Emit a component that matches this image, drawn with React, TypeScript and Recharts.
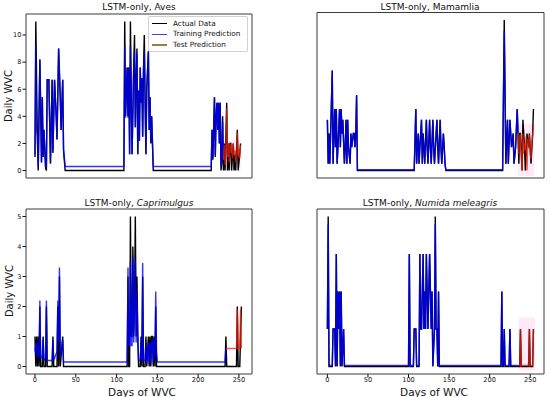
import React from 'react';
import { LineChart, Line, XAxis, YAxis, ReferenceArea } from 'recharts';

type Pt = [number, number];

// ---------- Aves ----------
const avesActual: Pt[] = [
  [0, 1], [1, 11], [3, 2.3], [4, 0], [6, 8.2], [8, 0.6], [9, 5.4], [10, 1], [11, 3], [13, 0.2], [14, 0], [15, 6.7], [17, 6.7], [19, 0.5], [21, 6.7], [22, 1.3], [24, 6.7], [26, 4], [27, 2.3], [29, 9], [31, 5.4], [32, 3], [34, 6.7], [35, 1.5], [37, 0], [109, 0],
  [110, 11], [111, 4], [113, 7.6], [114, 4], [115, 7.6], [116, 1.2], [117, 11], [118, 5.4], [119, 1.2], [121, 7.6], [122, 10], [123, 3.2], [124, 6.5], [125, 9], [126, 1.2], [127, 5.9], [128, 2.2], [129, 7.6], [130, 5], [131, 6.8], [132, 2.5], [133, 7.4], [134, 10], [135, 5.1], [136, 1.2], [137, 6], [139, 8.8], [140, 3], [141, 5.4], [142, 2], [143, 4], [145, 0], [216, 0],
  [217, 3], [218, 0.8], [220, 5.4], [221, 1], [222, 4], [223, 5], [224, 3], [225, 5], [226, 2], [227, 5], [228, 0], [229, 0.6], [230, 4], [231, 0], [232, 2], [233, 0], [235, 5], [236, 0], [237, 2], [238, 0], [239, 2], [240, 2], [241, 0], [243, 2], [244, 0], [245, 1.2], [246, 0], [248, 3], [249, 0], [250, 0.6], [252, 2],
];
const avesTrain: Pt[] = [
  [0, 1.2], [1, 9.2], [2, 3], [3, 2.5], [4, 0.3], [6, 8.2], [8, 0.6], [9, 5.4], [10, 1], [11, 3], [13, 0.3], [14, 0.3], [15, 6.7], [17, 6.7], [19, 0.6], [21, 6.7], [22, 1.4], [24, 6.7], [26, 4], [27, 2.3], [29, 9], [31, 5.4], [32, 3], [34, 6.7], [35, 1.6], [37, 0.3], [109, 0.3],
  [110, 9.2], [111, 3.9], [113, 7.6], [114, 3.9], [115, 7.6], [116, 1.2], [117, 9.2], [118, 5.4], [119, 1.2], [121, 7.6], [122, 8.8], [123, 3.2], [124, 6.5], [125, 8.6], [126, 1.2], [127, 5.9], [128, 2.2], [129, 7.6], [130, 5], [131, 6.8], [132, 2.5], [133, 7.4], [134, 8.8], [135, 5.1], [136, 1.2], [137, 6], [139, 8.8], [140, 3], [141, 5.4], [142, 2.2], [143, 4], [145, 0.3], [216, 0.3],
  [217, 3], [218, 0.9], [220, 5.4], [221, 1.1], [222, 4], [223, 5], [224, 3], [225, 5], [226, 2], [227, 5], [228, 0.3], [229, 0.7], [230, 3.6], [231, 0.8],
];
const avesTest: Pt[] = [
  [231, 0.8], [232, 1.9], [233, 0.4], [234, 1.4], [235, 4.6], [236, 1], [237, 2], [238, 0.6], [239, 2], [240, 1.3], [241, 1.9], [242, 0.9], [243, 2], [244, 1.1], [245, 1.5], [246, 0.6], [247, 1.2], [248, 2.8], [249, 1.1], [250, 1.6], [251, 0.9], [252, 1.9],
];
const avesBand: number[] = [231, 252, 0, 2.2];

// ---------- Mamamlia ----------
const mamActual: Pt[] = [
  [0, 3.7], [1, 0.5], [2, 2.7], [3, 0.5], [4, 2.7], [6, 7.3], [7, 0.5], [8, 2.7], [9, 4.5], [10, 1.7], [11, 4.5], [12, 0.5], [13, 1.7], [15, 4.5], [16, 1.7], [17, 4.5], [18, 2.7], [19, 3.7], [21, 0.5], [22, 1.7], [23, 3.7], [24, 0.5], [25, 3.7], [26, 1.7], [28, 0.5], [29, 2.7], [30, 1.7], [32, 2.7], [33, 2.7], [34, 1.7], [35, 2.7], [36, 5.5], [37, 0], [107, 0],
  [109, 4.5], [110, 0.5], [111, 1.7], [112, 2.7], [113, 0.5], [114, 1.7], [116, 3.7], [117, 0.5], [118, 2.7], [119, 1.7], [120, 0.5], [122, 3.7], [123, 1.7], [124, 0.5], [126, 3.7], [127, 1.7], [128, 0.5], [130, 3.7], [131, 1.7], [132, 0.5], [135, 3.7], [136, 1.7], [137, 0.5], [139, 3.7], [140, 1.7], [141, 0.5], [143, 2.7], [144, 1.7], [145, 0.5], [146, 0], [216, 0],
  [218, 11], [220, 0.5], [222, 3.7], [223, 0.5], [225, 3.7], [227, 1.7], [229, 2.7], [230, 0.5], [232, 1.7], [234, 4.5], [236, 0.5], [237, 2.7], [238, 2.7], [240, 0], [241, 3.7], [243, 1.7], [244, 0], [246, 2.7], [248, 1.7], [249, 2.7], [251, 0.5], [253, 2.7], [254, 4.5],
];
const mamTrain: Pt[] = [
  [0, 3.7], [1, 0.5], [2, 2.7], [3, 0.5], [4, 2.7], [6, 7.3], [7, 0.5], [8, 2.7], [9, 4.5], [10, 1.7], [11, 4.5], [12, 0.5], [13, 1.7], [15, 4.5], [16, 1.7], [17, 4.5], [18, 2.7], [19, 3.7], [21, 0.5], [22, 1.7], [23, 3.7], [24, 0.5], [25, 3.7], [26, 1.7], [28, 0.5], [29, 2.7], [30, 1.7], [32, 2.7], [33, 2.7], [34, 1.7], [35, 2.7], [36, 5.5], [37, 0.05], [107, 0.05],
  [109, 4.5], [110, 0.5], [111, 1.7], [112, 2.7], [113, 0.5], [114, 1.7], [116, 3.7], [117, 0.5], [118, 2.7], [119, 1.7], [120, 0.5], [122, 3.7], [123, 1.7], [124, 0.5], [126, 3.7], [127, 1.7], [128, 0.5], [130, 3.7], [131, 1.7], [132, 0.5], [135, 3.7], [136, 1.7], [137, 0.5], [139, 3.7], [140, 1.7], [141, 0.5], [143, 2.7], [144, 1.7], [145, 0.5], [146, 0.05], [216, 0.05],
  [218, 10.2], [220, 0.5], [222, 3.7], [223, 0.5], [225, 3.7], [227, 1.7], [229, 2.7], [230, 0.5], [232, 1.7], [234, 4.5], [235, 2.7],
];
const mamTest: Pt[] = [
  [235, 2.7], [236, 1.2], [237, 2.5], [238, 2.6], [239, 1], [240, 0], [241, 2.7], [242, 1.2], [243, 2], [244, 1.5], [245, 2.5], [246, 0], [247, 2.3], [248, 1.6], [249, 2.6], [250, 1.3], [251, 0.8], [252, 2], [253, 2.5], [254, 3.3],
];
const mamBand: number[] = [235, 255, -0.4, 3.4];

// ---------- Caprimulgus ----------
const capActual: Pt[] = [
  [0, 1], [1, 0], [2, 1], [3, 0], [4, 1], [5, 0], [6, 2], [7, 0], [9, 0], [10, 1], [11, 0], [13, 0], [14, 2], [15, 0], [21, 0], [22, 1], [23, 0], [27, 0], [28, 2], [29, 0], [30, 3], [31, 0], [34, 1], [35, 0], [113, 0],
  [114, 3], [115, 0], [116, 0], [117, 5], [118, 1], [119, 1], [120, 4], [121, 1], [122, 2], [123, 5], [124, 1], [125, 3], [126, 1], [127, 0], [129, 0], [130, 1], [131, 0], [132, 3], [133, 0], [135, 0], [136, 1], [137, 0], [139, 1], [140, 0], [141, 1], [142, 0], [143, 1], [144, 1], [145, 0], [146, 1], [147, 0], [148, 2], [149, 0], [233, 0],
  [234, 1], [235, 0], [247, 0], [248, 2], [249, 0], [251, 0], [252, 1], [253, 2],
];
const capTrain: Pt[] = [
  [0, 0.5], [1, 0.8], [2, 0.3], [3, 0.8], [4, 0.4], [5, 0.3], [6, 2.2], [7, 0.3], [9, 0.3], [10, 0.9], [11, 0.2], [13, 0.3], [14, 2.2], [15, 0.2], [21, 0.2], [22, 0.9], [23, 0.2], [27, 0.5], [28, 2.2], [29, 0.8], [30, 3.3], [31, 0.3], [34, 0.9], [35, 0.15], [113, 0.15],
  [114, 3.3], [115, 0.7], [116, 0.7], [117, 3.5], [118, 0.7], [119, 0.7], [120, 3.7], [121, 0.8], [122, 1.8], [123, 3.5], [124, 0.8], [125, 2.5], [126, 1], [127, 0.2], [129, 0.2], [130, 0.8], [131, 0.2], [132, 3.45], [133, 0.2], [135, 0.2], [136, 0.8], [137, 0.1], [139, 0.8], [140, 0.1], [141, 0.8], [142, 0.1], [143, 0.8], [144, 0.9], [145, 0.1], [146, 0.9], [147, 0.3], [148, 2.5], [149, 0.5], [150, 0.15], [233, 0.15], [234, 0.6],
];
const capTest: Pt[] = [
  [234, 0.6], [247, 0.6], [248, 1.9], [249, 0.6], [251, 0.6], [252, 1.9], [253, 0.6],
];

// ---------- Numida meleagris ----------
const numActual: Pt[] = [
  [0, 1], [1, 4], [2, 0], [6, 0], [7, 1], [9, 1], [10, 0], [11, 3], [12, 0], [13, 2], [14, 1], [15, 2], [16, 0], [17, 2], [18, 0], [20, 1], [21, 0], [100, 0],
  [101, 3], [102, 0], [106, 0], [107, 1], [109, 1], [110, 0], [113, 0], [114, 3], [115, 1], [116, 1], [117, 2], [118, 3], [119, 1], [120, 2], [121, 1], [122, 3], [123, 2], [124, 1], [125, 2], [126, 3], [127, 2], [128, 1], [129, 2], [130, 0], [132, 1], [133, 4], [134, 1], [135, 1], [136, 0], [137, 2], [138, 0], [214, 0],
  [215, 2], [216, 0], [217, 0], [218, 1], [219, 0], [224, 0], [225, 1], [226, 0], [237, 0], [238, 1], [239, 0], [248, 0], [249, 1], [250, 0], [253, 0], [254, 1],
];
const numTrain: Pt[] = [
  [0, 1], [1, 3.8], [2, 0.03], [6, 0.03], [7, 1], [9, 1], [10, 0.03], [11, 3], [12, 0.03], [13, 2], [14, 1], [15, 2], [16, 0.03], [17, 2], [18, 0.03], [20, 1], [21, 0.03], [100, 0.03],
  [101, 3], [102, 0.03], [106, 0.03], [107, 1], [109, 1], [110, 0.03], [113, 0.03], [114, 3], [115, 1], [116, 1], [117, 2], [118, 3], [119, 1], [120, 2], [121, 1], [122, 3], [123, 2], [124, 1], [125, 2], [126, 3], [127, 2], [128, 1], [129, 2], [130, 0.03], [132, 1], [133, 3.8], [134, 1], [135, 1], [136, 0.03], [137, 2], [138, 0.03], [214, 0.03],
  [215, 2], [216, 0.03], [217, 0.03], [218, 1], [219, 0.03], [224, 0.03], [225, 1], [226, 0.03], [236, 0.03],
];
const numTest: Pt[] = [
  [236, 0.03], [237, 0.03], [238, 1], [239, 0.03], [248, 0.03], [249, 1], [250, 0.03], [253, 0.03], [254, 1],
];
const numBand: number[] = [236, 256, -0.1, 1.3];

// ---------- ticks ----------
const dayTicks = [0, 50, 100, 150, 200, 250];
const avesTicks = [0, 2, 4, 6, 8, 10];
const capTicks = [0, 1, 2, 3, 4, 5];

const FONT = '"DejaVu Sans", Verdana, sans-serif';
const rows = (pts: Pt[]) => pts.map(([x, y]) => ({ x, y }));

const Y_W = 20; // left y-axis width
const X_H = 15; // bottom x-axis height (labelled)

type Frame = { left: number; top: number; right: number; bottom: number };

type PanelProps = {
  left: number; top: number; width: number; height: number;
  frame: Frame;
  xDomain: [number, number]; yDomain: [number, number];
  xTicks?: number[]; yTicks?: number[];
  actual: Pt[]; train: Pt[]; test: Pt[]; band?: number[];
};

function Panel(p: PanelProps) {
  const frameLine = { stroke: '#3a3a3a', strokeWidth: 1 };
  const tickStyle = { fontSize: 6.6, fill: '#111', fontFamily: FONT };
  const xh = p.xTicks ? X_H : 2;
  const margin = {
    top: p.frame.top - 1,
    left: p.frame.left - Y_W,
    right: p.width - p.frame.right - 1,
    bottom: p.height - p.frame.bottom - xh,
  };
  return (
    <div style={{ position: 'absolute', left: p.left, top: p.top }}>
      <LineChart width={p.width} height={p.height} margin={margin}>
        <XAxis xAxisId={0} dataKey="x" type="number" domain={p.xDomain} allowDataOverflow
          ticks={p.xTicks ?? dayTicks} tick={p.xTicks ? tickStyle : false} tickLine={p.xTicks ? { stroke: '#111' } : false}
          tickSize={3.5} tickMargin={0} height={xh} axisLine={frameLine} interval={0} />
        <XAxis xAxisId="top" orientation="top" type="number" domain={p.xDomain} allowDataOverflow
          ticks={dayTicks} tick={false} tickLine={false} height={1} axisLine={frameLine} />
        <YAxis yAxisId={0} type="number" domain={p.yDomain} allowDataOverflow
          ticks={p.yTicks ?? [0]} tick={p.yTicks ? tickStyle : false} tickLine={p.yTicks ? { stroke: '#111' } : false}
          tickSize={3.5} tickMargin={1} width={Y_W} axisLine={frameLine} interval={0} />
        <YAxis yAxisId="right" orientation="right" type="number" domain={p.yDomain} allowDataOverflow
          ticks={[0]} tick={false} tickLine={false} width={1} axisLine={frameLine} />
        {p.band && (
          <ReferenceArea xAxisId={0} yAxisId={0} x1={p.band[0]} x2={p.band[1]} y1={p.band[2]} y2={p.band[3]}
            fill="#ffb3e6" fillOpacity={0.3} stroke="none" />
        )}
        <Line xAxisId={0} yAxisId={0} data={rows(p.actual)} dataKey="y" stroke="#000" strokeWidth={1.4}
          dot={false} activeDot={false} isAnimationActive={false} type="linear" />
        <Line xAxisId={0} yAxisId={0} data={rows(p.train)} dataKey="y" stroke="#0000ff" strokeOpacity={0.8} strokeWidth={1.4}
          dot={false} activeDot={false} isAnimationActive={false} type="linear" />
        <Line xAxisId={0} yAxisId={0} data={rows(p.test)} dataKey="y" stroke="#e8200c" strokeOpacity={0.75} strokeWidth={1.4}
          dot={false} activeDot={false} isAnimationActive={false} type="linear" />
      </LineChart>
    </div>
  );
}

const textBase: React.CSSProperties = { position: 'absolute', fontFamily: FONT, color: '#111', whiteSpace: 'nowrap', lineHeight: 1 };

function Title({ x, y, children }: { x: number; y: number; children: React.ReactNode }) {
  return <div style={{ ...textBase, left: x, top: y, fontSize: 9, transform: 'translate(-50%,-50%)' }}>{children}</div>;
}
function YLabel({ x, y }: { x: number; y: number }) {
  return <div style={{ ...textBase, left: x, top: y, fontSize: 10, transform: 'translate(-50%,-50%) rotate(-90deg)' }}>Daily WVC</div>;
}
function XLabel({ x, y }: { x: number; y: number }) {
  return <div style={{ ...textBase, left: x, top: y, fontSize: 10.5, transform: 'translate(-50%,-50%)' }}>Days of WVC</div>;
}

const legendItems = [
  { label: 'Actual Data', color: '#000' },
  { label: 'Training Prediction', color: '#5a3cf0' },
  { label: 'Test Prediction', color: '#a07850' },
];

function Legend() {
  return (
    <div style={{ position: 'absolute', left: 148, top: 16, width: 100, height: 36, border: '1px solid #d0d0d0', borderRadius: 2, background: 'rgba(255,255,255,0.85)', boxSizing: 'border-box' }}>
      {legendItems.map((it, i) => (
        <div key={it.label} style={{ position: 'absolute', left: 0, top: 6.5 + i * 10.8, width: 100, height: 0 }}>
          <div style={{ position: 'absolute', left: 3, top: -0.75, width: 15, height: 1.5, background: it.color }} />
          <div style={{ ...textBase, left: 24, top: 0, fontSize: 7.3, transform: 'translateY(-50%)' }}>{it.label}</div>
        </div>
      ))}
    </div>
  );
}

export default function App() {
  return (
    <div style={{ position: 'absolute', left: 0, top: 0, width: 550, height: 397, background: '#fff', overflow: 'hidden' }}>
      <Panel left={0} top={0} width={275} height={190} frame={{ left: 26, top: 14, right: 252, bottom: 178 }}
        xDomain={[-11, 266]} yDomain={[-0.55, 11.55]} yTicks={avesTicks}
        actual={avesActual} train={avesTrain} test={avesTest} band={avesBand} />
      <Panel left={275} top={0} width={275} height={190} frame={{ left: 42, top: 12.5, right: 269, bottom: 178 }}
        xDomain={[-12.8, 267]} yDomain={[-0.55, 11.55]}
        actual={mamActual} train={mamTrain} test={mamTest} band={mamBand} />
      <Panel left={0} top={190} width={275} height={207} frame={{ left: 26, top: 19, right: 252, bottom: 184 }}
        xDomain={[-11, 266]} yDomain={[-0.25, 5.25]} xTicks={dayTicks} yTicks={capTicks}
        actual={capActual} train={capTrain} test={capTest} />
      <Panel left={275} top={190} width={275} height={207} frame={{ left: 42, top: 19, right: 269, bottom: 184 }}
        xDomain={[-12.8, 267]} yDomain={[-0.2, 4.2]} xTicks={dayTicks}
        actual={numActual} train={numTrain} test={numTest} band={numBand} />

      <Title x={139} y={7}>LSTM-only, Aves</Title>
      <Title x={430} y={7}>LSTM-only, Mamamlia</Title>
      <Title x={139} y={203}>LSTM-only, <i>Caprimulgus</i></Title>
      <Title x={430} y={203}>LSTM-only, <i>Numida meleagris</i></Title>
      <YLabel x={9} y={96} />
      <YLabel x={10} y={291} />
      <XLabel x={142} y={391.5} />
      <XLabel x={434} y={391.5} />
      <Legend />
    </div>
  );
}
